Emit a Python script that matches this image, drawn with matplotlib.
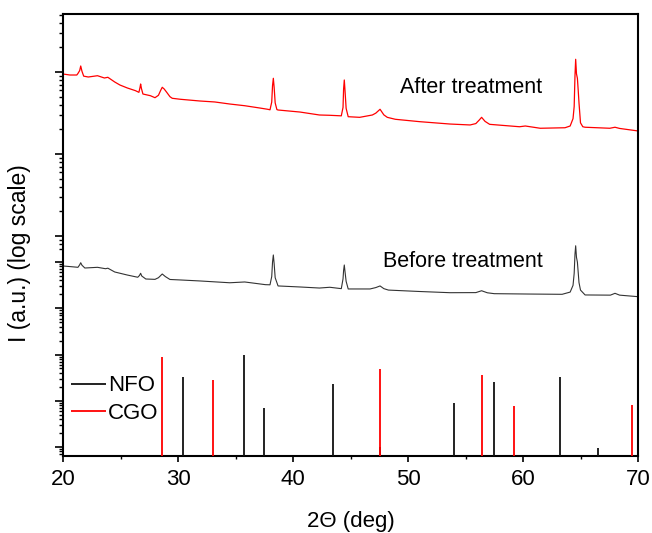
import numpy as np
import matplotlib
matplotlib.use("Agg")
import matplotlib.pyplot as plt
from matplotlib.ticker import FixedLocator, LogLocator, NullFormatter, MultipleLocator

plt.rcParams['font.family'] = ['Liberation Sans', 'DejaVu Sans']

# measured pattern after treatment (2theta, counts)
after_tt = [20.0, 20.6, 21.2, 21.3, 21.45, 21.54, 21.65, 21.8, 22.2, 23.0, 23.6, 23.9,
            24.5, 24.95, 25.6, 26.3, 26.6, 26.7, 26.75, 26.82, 26.95, 27.6, 28.0, 28.3,
            28.5, 28.63, 28.8, 29.0, 29.3, 29.5, 30.2, 31.9, 33.2, 34.5, 35.8, 37.1,
            37.8, 38.0, 38.15, 38.22, 38.29, 38.36, 38.45, 38.6, 38.7, 40.6, 42.3, 43.2,
            44.2, 44.35, 44.4, 44.46, 44.52, 44.62, 44.8, 45.8, 46.9, 47.2, 47.57, 47.9,
            48.2, 48.9, 51.0, 53.65, 55.4, 55.9, 56.2, 56.4, 56.7, 57.1, 59.7, 60.2,
            61.5, 63.65, 64.1, 64.35, 64.45, 64.52, 64.58, 64.65, 64.73, 64.8, 64.87,
            65.0, 65.2, 65.4, 67.55, 68.0, 68.4, 70.0]
after_I = [9450, 9190, 9190, 9600, 10400, 11840, 10200, 8900, 8690, 9010, 8450, 8620,
           7550, 6940, 6380, 5920, 5650, 6500, 7140, 6300, 5390, 5140, 4860, 5200,
           6000, 6510, 6200, 5700, 5000, 4780, 4650, 4430, 4310, 4070, 3880, 3640,
           3510, 3460, 4300, 6800, 8380, 6500, 4200, 3480, 3440, 3250, 2990, 2965,
           2920, 3700, 6200, 7990, 6000, 3600, 2850, 2800, 2990, 3150, 3510, 3000,
           2800, 2650, 2480, 2320, 2260, 2350, 2600, 2800, 2500, 2300, 2150, 2195,
           2060, 2090, 2195, 2700, 3800, 9000, 14290, 9500, 8380, 6000, 4190,
           2400, 2150, 2120, 2060, 2120, 2050, 1910]

# measured pattern before treatment
before_tt = [20.0, 21.0, 21.3, 21.45, 21.54, 21.65, 21.9, 23.0, 23.7, 23.9, 24.5, 25.6,
             26.5, 26.65, 26.75, 26.85, 27.2, 28.0, 28.3, 28.63, 28.9, 29.3, 30.2, 31.9,
             34.5, 35.8, 37.6, 38.0, 38.15, 38.22, 38.29, 38.36, 38.45, 38.7, 40.6, 42.3,
             43.2, 44.2, 44.35, 44.4, 44.46, 44.52, 44.62, 44.8, 46.7, 47.2, 47.57, 47.9,
             48.3, 51.0, 53.65, 55.9, 56.4, 56.9, 57.5, 60.5, 63.4, 64.1, 64.35, 64.45,
             64.52, 64.58, 64.65, 64.73, 64.8, 64.87, 65.0, 65.4, 67.6, 68.0, 68.4, 70.0]
before_I = [43.1, 41.9, 41.5, 44.5, 47.2, 44.0, 40.7, 41.5, 39.9, 40.5, 36.4, 33.4,
            31.4, 33.0, 35.1, 32.5, 29.9, 29.6, 31.0, 34.4, 32.0, 29.5, 29.1, 28.3,
            26.9, 27.5, 25.5, 25.4, 32.0, 48.0, 58.7, 46.0, 31.0, 24.6, 23.9, 23.2,
            23.7, 22.8, 30.0, 38.0, 44.3, 37.0, 28.0, 22.6, 22.6, 23.5, 24.6, 22.8,
            21.9, 21.05, 20.35, 20.4, 21.5, 20.3, 19.8, 19.6, 19.45, 20.7, 25.0, 35.0,
            60.0, 76.0, 55.0, 48.0, 36.0, 27.0, 21.9, 19.1, 19.0, 20.0, 19.0, 18.2]

# reference stick patterns (relative intensity)
nfo_pos = [30.4, 35.77, 37.48, 43.45, 47.6, 53.97, 57.48, 63.22, 66.52]
nfo_int = [33, 100, 6.9, 23, 1.0, 8.8, 25, 32, 0.95]
cgo_pos = [28.6, 33.07, 47.6, 56.4, 59.19, 69.45]
cgo_int = [90, 28, 48.5, 36.6, 7.7, 8.0]

fig = plt.figure(figsize=(6.52, 5.33), dpi=100)
ax = fig.add_axes([63/652, 1-456/533, 575/652, 442/533])
ax2 = fig.add_axes([63/652, 1-456/533, 575/652, 194/533])

ax.plot(after_tt, after_I, color='#ff0000', lw=0.9)
ax.plot(before_tt, before_I, color='#333333', lw=0.8)
ax.set_yscale('log')
ax.set_xlim(20, 70)
ax.set_ylim(10**(4-384/82), 10**(4+58/82))

maj = [1e2, 1e3, 1e4]
mins = [70, 80, 90] + [k*1e2 for k in range(2, 10)] + [k*1e3 for k in range(2, 10)] + [2e4, 3e4, 4e4, 5e4]
ax.yaxis.set_major_locator(FixedLocator(maj))
ax.yaxis.set_minor_locator(FixedLocator(mins))
ax.yaxis.set_major_formatter(NullFormatter())
ax.yaxis.set_minor_formatter(NullFormatter())
ax.xaxis.set_major_locator(MultipleLocator(10))
ax.xaxis.set_minor_locator(MultipleLocator(5))
for s in ax.spines.values():
    s.set_linewidth(1.5)
ax.tick_params(axis='y', which='major', direction='out', length=6, width=1.2)
ax.tick_params(axis='y', which='minor', direction='out', length=3, width=1.0)
ax.tick_params(axis='x', which='major', direction='out', length=4.5, width=1.2, labelsize=16, pad=5)
ax.tick_params(axis='x', which='minor', direction='out', length=2.5, width=1.0)
ax.set_xlabel('2\u0398 (deg)', fontsize=16, labelpad=15)
ax.set_ylabel('I (a.u.) (log scale)', fontsize=16.5)
ax.yaxis.set_label_coords(-0.055, 0.46)

ax.text(49.3, 6381, 'After treatment', fontsize=15.5, va='center', ha='left')
ax.text(47.83, 49.3, 'Before treatment', fontsize=15.5, va='center', ha='left')

ax2.patch.set_visible(False)
for s in ax2.spines.values():
    s.set_visible(False)
ax2.vlines(nfo_pos, 0.1, nfo_int, color='#111111', lw=1.3, label='NFO')
ax2.vlines(cgo_pos, 0.1, cgo_int, color='#ff0000', lw=1.3, label='CGO')
ax2.set_yscale('log')
ax2.set_xlim(20, 70)
ax2.set_ylim(10**(-9/46.25), 1e4)
ax2.yaxis.set_major_locator(LogLocator(base=10, numticks=20))
ax2.yaxis.set_minor_locator(LogLocator(base=10, subs=np.arange(2, 10), numticks=40))
ax2.yaxis.set_major_formatter(NullFormatter())
ax2.yaxis.set_minor_formatter(NullFormatter())
ax2.tick_params(axis='y', which='major', direction='out', length=6, width=1.2)
ax2.tick_params(axis='y', which='minor', direction='out', length=3, width=1.0)
ax2.tick_params(axis='x', which='both', bottom=False, labelbottom=False)
ax2.legend(loc='upper left', bbox_to_anchor=(0.003, 0.45), frameon=False, fontsize=16,
           handlelength=1.55, handletextpad=0.1, labelspacing=0.3, borderpad=0, borderaxespad=0.3)

fig.savefig('out.png', dpi=100)
